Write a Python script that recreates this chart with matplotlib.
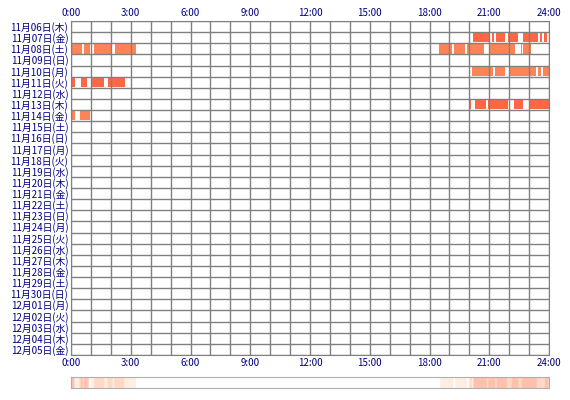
import numpy as np
import matplotlib
matplotlib.use("Agg")
import matplotlib.pyplot as plt
import datetime as dt

plt.rcParams['font.family'] = ['Noto Sans CJK JP', 'DejaVu Sans']

start = dt.date(2014, 11, 6)
n_days = 30
wd = ['月', '火', '水', '木', '金', '土', '日']
labels = []
for i in range(n_days):
    d = start + dt.timedelta(days=i)
    labels.append(f"{d.month}月{d.day:02d}日({wd[d.weekday()]})")

# activity segments per row index: (start hour, end hour)
seg_1107 = [(20.2, 21.05), (21.15, 21.25), (21.35, 21.8), (21.95, 22.45),
            (22.7, 23.45), (23.55, 23.65), (23.75, 23.9)]
seg_1108 = [(0.0, 0.55), (0.65, 0.95), (1.15, 2.05), (2.2, 3.25),
            (18.5, 19.15), (19.25, 19.8), (19.9, 20.75), (21.05, 22.3),
            (22.6, 22.65), (22.7, 23.1)]
seg_1110 = [(20.15, 21.2), (21.3, 21.8), (22.05, 23.35), (23.45, 23.6), (23.7, 24.0)]
seg_1111 = [(0.0, 0.2), (0.5, 0.8), (1.0, 1.65), (1.85, 2.7)]
seg_1113 = [(20.0, 20.1), (20.3, 20.85), (20.95, 21.95), (22.25, 22.7), (23.05, 24.0)]
seg_1114 = [(0.0, 0.2), (0.45, 0.95)]
segments = {1: seg_1107, 2: seg_1108, 4: seg_1110, 5: seg_1111, 7: seg_1113, 8: seg_1114}
row_colors = {1: '#ff6644', 2: '#ff8455', 4: '#ff8455', 5: '#ff6644', 7: '#ff6644', 8: '#ff8455'}

fig = plt.figure(figsize=(5.7, 4.0), dpi=100)
ax = fig.add_axes([0.1246, 0.1125, 0.8386, 0.835])
for r, segs in segments.items():
    for a, b in segs:
        ax.barh(r + 0.5, b - a, left=a, height=0.85, color=row_colors[r], linewidth=0)
ax.set_xlim(0, 24)
ax.set_ylim(n_days, 0)
for h in range(25):
    ax.axvline(h, color='#808080', lw=1)
for r in range(n_days + 1):
    ax.axhline(r, color='#808080', lw=1)
ax.set_yticks(np.arange(n_days) + 0.5)
ax.set_yticklabels(labels, fontsize=7, color='#000080')
ax.set_xticks(range(0, 25, 3))
ax.set_xticklabels([f"{h}:00" for h in range(0, 25, 3)], fontsize=7, color='#000080')
ax.tick_params(length=0, pad=2, labeltop=True, labelbottom=True)
for s in ax.spines.values():
    s.set_color('#808080')

# summary heat strip
bins = np.linspace(0, 24, 24 * 12 + 1)
centers = (bins[:-1] + bins[1:]) / 2
counts = np.zeros(len(centers))
for segs in segments.values():
    for a, b in segs:
        counts += (centers >= a) & (centers < b)
ax2 = fig.add_axes([0.1246, 0.03, 0.8386, 0.0275])
cmap = matplotlib.colors.LinearSegmentedColormap.from_list('h', ['#ffffff', '#ffe4d4', '#ffc0ac'])
ax2.imshow(counts[None, :], aspect='auto', cmap=cmap, extent=[0, 24, 0, 1], vmin=0, vmax=3)
ax2.set_xticks([]); ax2.set_yticks([])
for s in ax2.spines.values():
    s.set_color('#b0b0b0')

fig.savefig('out.png', dpi=100)
